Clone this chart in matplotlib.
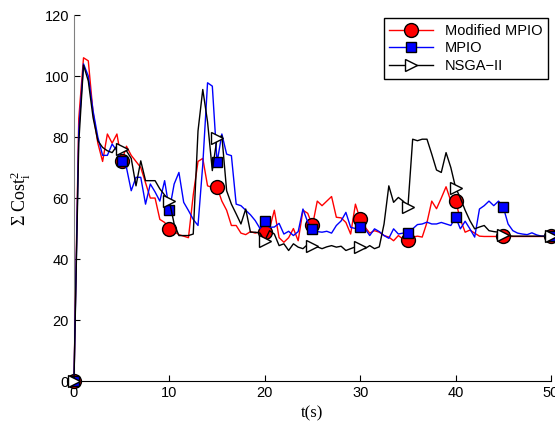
import matplotlib
matplotlib.use("Agg")
import matplotlib.pyplot as plt
import numpy as np

plt.rcParams['font.family'] = ['Liberation Sans', 'DejaVu Sans']
plt.rcParams['mathtext.fontset'] = 'custom'
plt.rcParams['mathtext.rm'] = 'Liberation Serif'
plt.rcParams['mathtext.it'] = 'Liberation Serif:italic'

# time axis, one sample every 0.5 s
t = np.arange(0, 50.01, 0.5)

modified_mpio = [
    0, 86, 106, 105, 88, 78, 72, 81, 78, 81,
    72, 77, 74, 72, 70, 65, 60, 60, 53, 52,
    50, 49, 48, 47.5, 47, 61, 72, 73, 64, 63.5,
    63.5, 59, 56, 51, 51, 48.5, 48, 49, 48.5, 49,
    48.8, 50, 56, 47, 45.5, 47, 50, 46, 56, 55,
    51, 59, 57.5, 59, 60.5, 53.7, 53.5, 52, 48.2, 58,
    53, 50.5, 48.5, 49.3, 48.8, 47.7, 47.2, 46, 47.7, 46.5,
    46.2, 47.2, 47.5, 47.2, 52, 59, 56.5, 60, 63.7, 59,
    59, 53, 48.8, 49.5, 48.5, 47.5, 47.4, 47.4, 47.4, 47.4,
    47.4, 47.4, 47.4, 47.4, 47.4, 47.4, 47.4, 47.4, 47.4, 47.4,
    47.4,
]

mpio = [
    0, 82, 104, 100, 88.6, 80, 74, 74, 77.7, 75.5,
    72, 70, 62.4, 66.8, 66.8, 58, 64.6, 62, 59, 65.7,
    56, 64.6, 68.4, 58.6, 55.9, 53, 51, 71, 97.8, 96.7,
    71.7, 81, 74.4, 73.9, 58, 57.5, 56, 54.5, 52.6, 50,
    52.4, 50.4, 50.5, 51.7, 48.2, 49.1, 47.7, 49, 56.4, 52.1,
    49.7, 49, 48.8, 49.1, 48.5, 51, 52.5, 55.3, 50.4, 50,
    50.4, 50, 47.7, 49.9, 49, 47.7, 46.8, 49.9, 48.2, 48.5,
    48.5, 49.9, 51.3, 51.5, 52.1, 51.5, 51.5, 52, 51.5, 51,
    53.7, 49.9, 52.4, 49.9, 47.2, 56.4, 57.5, 59, 57.5, 59,
    57, 51.5, 49.3, 48.5, 48.2, 48, 48.6, 47.9, 47.5, 47.5,
    47.5,
]

nsga2 = [
    0, 78, 103.6, 98.4, 86.4, 78.8, 76.6, 75.5, 74.9, 77.1,
    76, 75.5, 73, 64, 72.2, 65.7, 65.7, 65.7, 63, 61,
    59, 51.5, 47.7, 47.7, 47.7, 48.2, 82, 95.6, 85, 69,
    79.8, 80.4, 62.4, 58, 54.8, 51.5, 56.4, 48.8, 48.8, 48.5,
    46, 49.3, 48.2, 44.4, 45, 42.8, 45, 43.9, 43.4, 44.8,
    44.4, 44, 43.4, 44, 44.4, 43.9, 44.2, 42.8, 43.4, 44,
    44.1, 43.4, 44.4, 43.4, 44, 51.5, 64, 58.6, 60.2, 59,
    57, 79.3, 78.8, 79.3, 79.3, 74.4, 69.2, 68.4, 74.9, 70,
    63.4, 60, 56, 52.6, 49.9, 50.5, 51, 49.3, 49, 48.8,
    48, 47.7, 47.5, 47.5, 47.5, 47.5, 47.5, 47.5, 47.5, 47.5,
    47.7,
]

fig = plt.figure(figsize=(5.55, 4.25), dpi=100)
ax = fig.add_axes([0.1333, 0.1035, 0.8595, 0.861])

ax.plot(t, modified_mpio, color='red', lw=1.0, marker='o', markevery=10,
        ms=10, mfc='red', mec='black', mew=1.0, clip_on=False,
        label='Modified MPIO', zorder=3)
ax.plot(t, mpio, color='blue', lw=1.0, marker='s', markevery=10,
        ms=7, mfc='blue', mec='black', mew=1.0, clip_on=False,
        label='MPIO', zorder=4)
ax.plot(t, nsga2, color='black', lw=1.0, marker='>', markevery=10,
        ms=8, mfc='white', mec='black', mew=1.0, clip_on=False,
        label='NSGA\u2212II', zorder=5)

ax.set_xlim(0, 50)
ax.set_ylim(0, 120)
ax.set_xticks(range(0, 51, 10))
ax.set_yticks(range(0, 121, 20))
ax.tick_params(direction='in', labelsize=10.5, length=4)
ax.spines['top'].set_visible(False)
ax.spines['right'].set_visible(False)
ax.spines['left'].set_color('#808080')

ax.set_xlabel('t(s)', family='Liberation Serif', fontsize=12, labelpad=4)
ax.set_ylabel(r'$\Sigma\ \mathrm{Cost}_{\mathrm{i}}^{2}$', fontsize=13,
              labelpad=8)

leg = ax.legend(loc='upper right', fontsize=10.5, handlelength=3,
                fancybox=False, framealpha=1, edgecolor='black',
                borderaxespad=0.2, labelspacing=0.25)
leg.get_frame().set_linewidth(1.0)

fig.savefig('out.png', dpi=100)
